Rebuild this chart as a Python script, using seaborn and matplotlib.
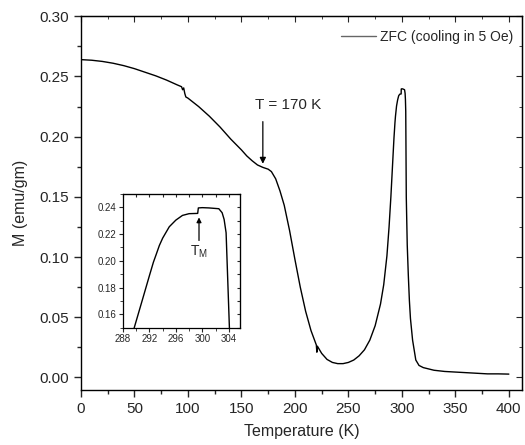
import matplotlib
matplotlib.use("Agg")
import matplotlib.pyplot as plt
import seaborn as sns
import pandas as pd
from matplotlib.ticker import MultipleLocator

temperature = [0, 10, 20, 30, 40, 50, 60, 70, 80, 90, 94, 95, 96, 97, 98, 100, 110, 120, 130,
               140, 150, 155, 160, 165, 170, 175, 178, 182, 186, 190, 195, 200, 205, 210,
               215, 220, 220.5, 221, 225, 230, 235, 240, 245, 250, 255, 260, 265, 270, 275,
               280, 283, 286, 288, 289.7, 291, 292, 292.6, 293, 293.5, 294, 295, 296, 297,
               298, 299.3, 299.4, 300, 301, 302.5, 303, 303.3, 303.6, 304.1, 305, 306, 307,
               308, 310, 313, 316, 320, 330, 340, 350, 360, 370, 380, 390, 400]
magnetization = [0.264, 0.2635, 0.2625, 0.261, 0.259, 0.2565, 0.2535, 0.2505, 0.247, 0.243,
                 0.2415, 0.239, 0.2405, 0.236, 0.233, 0.232, 0.225, 0.217, 0.208, 0.198, 0.189,
                 0.184, 0.180, 0.1765, 0.1745, 0.173, 0.171, 0.165, 0.155, 0.143, 0.122, 0.098,
                 0.075, 0.055, 0.039, 0.027, 0.021, 0.026, 0.020, 0.015, 0.0125, 0.0115,
                 0.0115, 0.0125, 0.0145, 0.018, 0.023, 0.031, 0.043, 0.061, 0.077, 0.101,
                 0.125, 0.150, 0.172, 0.189, 0.199, 0.2045, 0.2115, 0.217, 0.2255, 0.2305,
                 0.234, 0.2353, 0.2355, 0.2396, 0.2398, 0.2396, 0.239, 0.236, 0.231, 0.221,
                 0.150, 0.110, 0.085, 0.064, 0.049, 0.031, 0.0145, 0.010, 0.0082, 0.006,
                 0.005, 0.0045, 0.004, 0.0035, 0.003, 0.003, 0.0028]

series_label = "ZFC (cooling in 5 Oe)"
x_label = "Temperature (K)"
y_label = "M (emu/gm)"
annot_main = "T = 170 K"
annot_inset = "T$_{\\mathregular{M}}$"

df = pd.DataFrame({"T": temperature, "M": magnetization, "series": series_label})

sns.set_style("ticks")
plt.rcParams["font.family"] = ["Liberation Sans", "DejaVu Sans"]
plt.rcParams["mathtext.fontset"] = "custom"
plt.rcParams["mathtext.rm"] = "Liberation Sans"

fig = plt.figure(figsize=(5.25, 4.45), dpi=100)
ax = fig.add_axes([0.1543, 0.1236, 0.8394, 0.8398])

sns.lineplot(data=df, x="T", y="M", hue="series", palette=["black"], estimator=None,
             sort=False, linewidth=1.0, ax=ax)
ax.set_xlim(0, 412)
ax.set_ylim(-0.0104, 0.30)
ax.xaxis.set_major_locator(MultipleLocator(50))
ax.xaxis.set_minor_locator(MultipleLocator(25))
ax.set_yticks([0, 0.05, 0.10, 0.15, 0.20, 0.25, 0.30])
ax.set_yticklabels(["0.00", "0.05", "0.10", "0.15", "0.20", "0.25", "0.30"])
ax.yaxis.set_minor_locator(MultipleLocator(0.025))
ax.tick_params(which="both", direction="out", labelsize=11, top=False, right=False)
ax.tick_params(which="major", length=5, width=1)
ax.tick_params(which="minor", length=3, width=1)
for s in ax.spines.values():
    s.set_linewidth(1.0)
    s.set_color("black")
ax.set_xlabel(x_label, fontsize=11.5, labelpad=6)
ax.set_ylabel(y_label, fontsize=11.5, labelpad=8)

# inward ticks on top/right
axt = ax.secondary_xaxis("top")
axt.xaxis.set_major_locator(MultipleLocator(50))
axt.xaxis.set_minor_locator(MultipleLocator(25))
axt.tick_params(which="both", direction="in", labeltop=False)
axt.tick_params(which="major", length=4)
axt.tick_params(which="minor", length=2.5)
axr = ax.secondary_yaxis("right")
axr.yaxis.set_major_locator(MultipleLocator(0.05))
axr.yaxis.set_minor_locator(MultipleLocator(0.025))
axr.tick_params(which="both", direction="in", labelright=False)
axr.tick_params(which="major", length=4)
axr.tick_params(which="minor", length=2.5)

leg = ax.legend(loc="upper right", bbox_to_anchor=(0.993, 0.979), frameon=False,
                fontsize=10, handlelength=2.5, handletextpad=0.3, borderaxespad=0.0)
for h in leg.get_lines():
    h.set_color("#666666")

ax.text(162.4, 0.2264, annot_main, ha="left", va="center", fontsize=11)
ax.annotate("", xy=(170, 0.1775), xytext=(170, 0.2125),
            arrowprops=dict(arrowstyle="-|>", color="black", lw=0.9, mutation_scale=9,
                            shrinkA=0, shrinkB=0))

# inset
axi = fig.add_axes([0.2343, 0.2636, 0.2228, 0.3004])
sns.lineplot(data=df, x="T", y="M", color="black", estimator=None, sort=False,
             linewidth=1.0, ax=axi, legend=False)
axi.set_xlim(288, 305.7)
axi.set_ylim(0.15, 0.25)
axi.set_xticks([288, 292, 296, 300, 304])
axi.xaxis.set_minor_locator(MultipleLocator(2))
axi.set_yticks([0.16, 0.18, 0.20, 0.22, 0.24])
axi.set_yticklabels(["0.16", "0.18", "0.20", "0.22", "0.24"])
axi.yaxis.set_minor_locator(MultipleLocator(0.01))
axi.tick_params(which="both", direction="out", labelsize=7, pad=1.5)
axi.tick_params(which="major", length=3)
axi.tick_params(which="minor", length=2)
axi.set_xlabel("")
axi.set_ylabel("")
for s in axi.spines.values():
    s.set_linewidth(0.9)
    s.set_color("black")
ait = axi.secondary_xaxis("top")
ait.xaxis.set_major_locator(MultipleLocator(2))
ait.tick_params(direction="in", labeltop=False, length=2)
air = axi.secondary_yaxis("right")
air.yaxis.set_major_locator(MultipleLocator(0.01))
air.tick_params(direction="in", labelright=False, length=2)
axi.annotate(annot_inset, xy=(299.5, 0.2325), xytext=(299.5, 0.2128), ha="center",
             va="top", fontsize=10,
             arrowprops=dict(arrowstyle="-|>", color="black", lw=0.9, mutation_scale=7,
                             shrinkA=0, shrinkB=0))

fig.savefig("out.png", dpi=100)
